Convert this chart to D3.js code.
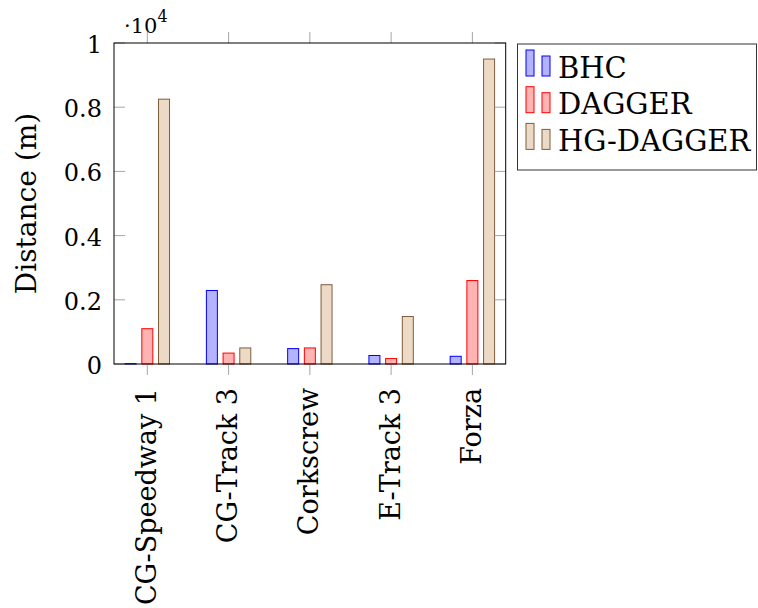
<!DOCTYPE html>
<html>
<head>
<meta charset="utf-8">
<script src="https://cdn.jsdelivr.net/npm/d3@7"></script>
<style>
  html, body { margin: 0; padding: 0; background: #fff; }
</style>
</head>
<body>
<svg id="chart" width="758" height="608"></svg>
<script>
// Track names on the x axis
const tracks = ["CG-Speedway 1", "CG-Track 3", "Corkscrew", "E-Track 3", "Forza"];

// Distance travelled (m) per method and track
const bhc = [10, 2290, 480, 265, 240];
const dagger = [1100, 340, 500, 170, 2600];
const hgDagger = [8250, 500, 2470, 1480, 9500];

const seriesNames = ["BHC", "DAGGER", "HG-DAGGER"];

// Y tick values and their labels (axis shown in units of 10^4)
const yTickValues = [0, 2000, 4000, 6000, 8000, 10000];
const yTickLabels = ["0", "0.2", "0.4", "0.6", "0.8", "1"];

const series = [
  { name: seriesNames[0], values: bhc, fill: "#b3b3ff", stroke: "#0000ff" },
  { name: seriesNames[1], values: dagger, fill: "#ffb3b3", stroke: "#ff0000" },
  { name: seriesNames[2], values: hgDagger, fill: "#ecdac6", stroke: "#7f5d3b" }
];

const FONT = "'DejaVu Serif', serif";

const svg = d3.select("#chart")
  .attr("font-family", FONT)
  .style("font-family", FONT);

const plot = { left: 114, right: 505.7, top: 43, bottom: 364 };
const pad = 0.41;

const x = d3.scaleLinear()
  .domain([-pad, tracks.length - 1 + pad])
  .range([plot.left, plot.right]);

const y = d3.scaleLinear()
  .domain([0, 10000])
  .range([plot.bottom, plot.top]);

const barWidth = 11;
const barStep = 16.7;

// Bars
series.forEach((s, k) => {
  svg.append("g")
    .selectAll("rect")
    .data(s.values)
    .join("rect")
    .attr("x", (d, i) => x(i) + (k - 1) * barStep - barWidth / 2)
    .attr("y", d => y(d))
    .attr("width", barWidth)
    .attr("height", d => y(0) - y(d))
    .attr("fill", s.fill)
    .attr("stroke", s.stroke)
    .attr("stroke-width", 1);
});

// Tick marks
const tickColor = "#a6a6a6";
const ticks = svg.append("g").attr("stroke", tickColor).attr("stroke-width", 1);
tracks.forEach((t, i) => {
  ticks.append("line")
    .attr("x1", x(i)).attr("x2", x(i))
    .attr("y1", plot.bottom).attr("y2", plot.bottom + 11);
  ticks.append("line")
    .attr("x1", x(i)).attr("x2", x(i))
    .attr("y1", plot.top).attr("y2", plot.top - 11);
});
yTickValues.forEach(v => {
  ticks.append("line")
    .attr("x1", plot.left).attr("x2", plot.left + 11)
    .attr("y1", y(v)).attr("y2", y(v));
  ticks.append("line")
    .attr("x1", plot.right).attr("x2", plot.right - 11)
    .attr("y1", y(v)).attr("y2", y(v));
});

// Axis frame
svg.append("rect")
  .attr("x", plot.left).attr("y", plot.top)
  .attr("width", plot.right - plot.left)
  .attr("height", plot.bottom - plot.top)
  .attr("fill", "none")
  .attr("stroke", "#000")
  .attr("stroke-width", 1);

// Y tick labels
svg.append("g")
  .selectAll("text")
  .data(yTickValues)
  .join("text")
  .attr("x", 102)
  .attr("y", d => y(d))
  .attr("dy", "0.42em")
  .attr("text-anchor", "end")
  .attr("font-size", 24)
  .text((d, i) => yTickLabels[i]);

// Scale factor above the y axis
const exp = svg.append("text")
  .attr("x", 124)
  .attr("y", 33)
  .attr("font-size", 21);
exp.append("tspan").text("\u00b710");
exp.append("tspan").attr("dy", -11).attr("font-size", 16).text("4");

// X tick labels, rotated
svg.append("g")
  .selectAll("text")
  .data(tracks)
  .join("text")
  .attr("transform", (d, i) => `translate(${x(i)},388) rotate(-90)`)
  .attr("dy", "0.32em")
  .attr("text-anchor", "end")
  .attr("font-size", 27)
  .text(d => d);

// Y axis title
svg.append("text")
  .attr("transform", `translate(36,${(plot.top + plot.bottom) / 2}) rotate(-90)`)
  .attr("text-anchor", "middle")
  .attr("font-size", 28)
  .text("Distance (m)");

// Legend
const legend = svg.append("g");
legend.append("rect")
  .attr("x", 517.5).attr("y", 44)
  .attr("width", 239).attr("height", 126)
  .attr("fill", "#fff")
  .attr("stroke", "#333")
  .attr("stroke-width", 1);

series.forEach((s, k) => {
  const base = 76 + k * 36.7;
  const g = legend.append("g");
  g.append("rect")
    .attr("x", 526).attr("y", base - 26)
    .attr("width", 8).attr("height", 26)
    .attr("fill", s.fill).attr("stroke", s.stroke);
  g.append("rect")
    .attr("x", 542).attr("y", base - 20)
    .attr("width", 8).attr("height", 20)
    .attr("fill", s.fill).attr("stroke", s.stroke);
  g.append("text")
    .attr("x", 558)
    .attr("y", base + 1.5)
    .attr("font-size", 29)
    .text(s.name);
});
</script>
</body>
</html>
